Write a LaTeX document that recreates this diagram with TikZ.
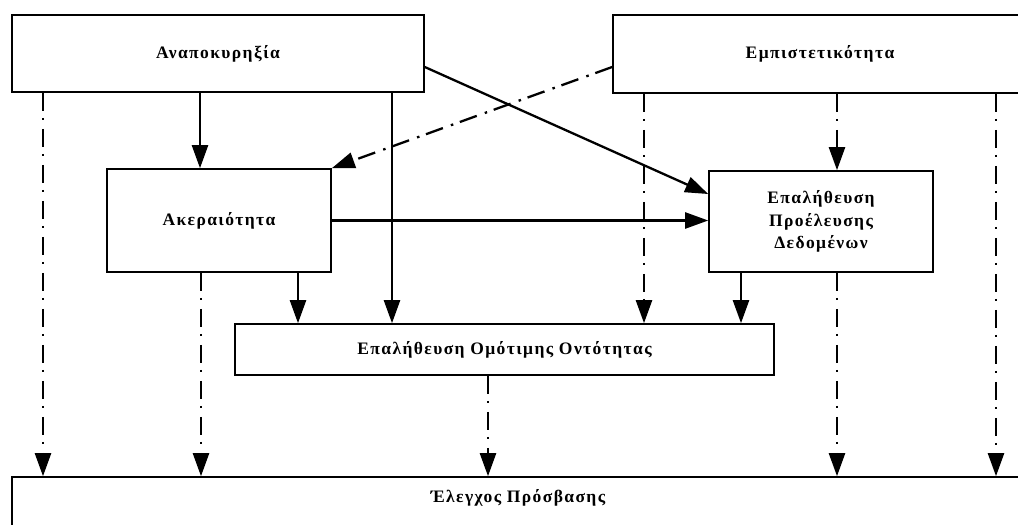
\documentclass[tikz,border=0pt]{standalone}
\usepackage{fontspec}
\setmainfont{Liberation Serif}
\usetikzlibrary{arrows.meta}
\begin{document}
\begin{tikzpicture}[x=1pt,y=-1pt,
  box/.style={draw, line width=1.6pt, rectangle, inner sep=0pt, align=center,
    font=\fontsize{17.5}{22.5}\selectfont\bfseries\addfontfeature{LetterSpace=8}},
  conn/.style={line width=2.3pt, -{Triangle[length=23pt,width=16pt]}},
  dashdot/.style={conn, dash pattern=on 18pt off 7pt on 2.5pt off 8.5pt},
]
\clip (0,0) rectangle (1018,525);

% services
\node[box, minimum width=412pt, minimum height=77pt] (anap) at (218,53.5) {Αναποκυρηξία};
\node[box, minimum width=414pt, minimum height=78pt] (emp) at (820,54) {Εμπιστετικότητα};
\node[box, minimum width=224pt, minimum height=103pt] (aker) at (219,220.5) {Ακεραιότητα};
\node[box, minimum width=224pt, minimum height=101pt] (prov) at (821,221.5) {Επαλήθευση\\Προέλευσης\\Δεδομένων};
\node[box, minimum width=539pt, minimum height=51pt] (omo) at (504.5,349.5) {Επαλήθευση Ομότιμης Οντότητας};
\node[box, minimum width=1012pt, minimum height=68pt, text height=15pt, text depth=33pt] (elen) at (518,511) {Έλεγχος Πρόσβασης};

% solid dependencies
\draw[conn] (200,0 |- anap.south) -- (200,0 |- aker.north);
\draw[conn] (392,0 |- anap.south) -- (392,0 |- omo.north);
\draw[conn] (anap.east |- 0,67) -- (prov.west |- 0,194);
\draw[conn] (aker.east) -- (aker.east -| prov.west);
\draw[conn] (298,0 |- aker.south) -- (298,0 |- omo.north);
\draw[conn] (741,0 |- prov.south) -- (741,0 |- omo.north);

% dash-dotted dependencies
\draw[dashdot] (emp.west |- 0,67) -- (aker.north east);
\draw[dashdot] (43,0 |- anap.south) -- (43,0 |- elen.north);
\draw[dashdot] (644,0 |- emp.south) -- (644,0 |- omo.north);
\draw[dashdot] (837,0 |- emp.south) -- (837,0 |- prov.north);
\draw[dashdot] (996,0 |- emp.south) -- (996,0 |- elen.north);
\draw[dashdot] (201,0 |- aker.south) -- (201,0 |- elen.north);
\draw[dashdot] (837,0 |- prov.south) -- (837,0 |- elen.north);
\draw[dashdot] (488,0 |- omo.south) -- (488,0 |- elen.north);
\end{tikzpicture}
\end{document}
